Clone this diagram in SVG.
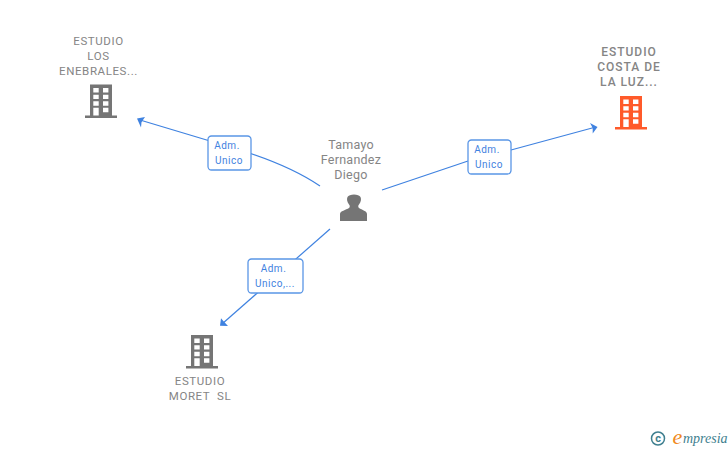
<svg xmlns="http://www.w3.org/2000/svg" xmlns:xlink="http://www.w3.org/1999/xlink" width="728" height="450" viewBox="0 0 728 450">
<style>
text{font-family:Roboto,"Liberation Sans",sans-serif;text-anchor:middle}
.n{font-size:11.500px;fill:#858585;letter-spacing:.6px}
.o{font-size:12px;fill:#858585;font-weight:500;letter-spacing:1px}
.p{font-size:12.500px;fill:#858585;letter-spacing:.25px}
.l{font-size:10px;fill:#3f82e0;letter-spacing:.5px}
.e{fill:none;stroke:#3f82e0;stroke-width:1.200}
.a{fill:#3f82e0}
.b{fill:#fff;stroke:#5a96e6;stroke-width:1.300}
</style>
<defs>
<g id="bld">
<path d="M5 0H27V31H32V33.500H0V31H5Z"/>
<path fill="#fff" d="M8.300 3.500h5.400v4.400h-5.400zM18 3.500h5.400v4.400H18zM8.300 10.200h5.400v4.400h-5.400zM18 10.200h5.400v4.400H18zM8.300 16.800h5.400v4.400h-5.400zM18 16.800h5.400v4.400H18zM8.300 23.300h5.400V31h-5.400zM18 23.300h5.400v4.500H18z"/>
</g>
</defs>
<g id="connectors">
<path class="e" d="M320 186C298 171 272 160 240 150L140 120"/>
<path class="a" d="M137 118.500L145 117L141.500 122.200L141 127.500Z"/>
<path class="e" d="M382 190L468 161"/>
<path class="e" d="M511 150L594 127.500"/>
<path class="a" d="M597.500 127L590 123L592.700 128L592.700 133.500Z"/>
<path class="e" d="M330 229L222 324"/>
<path class="a" d="M220 325.700L221 318.300L224 321.700L228 326Z"/>
</g>
<g id="label1"><rect class="b" x="208" y="136" width="43" height="34" rx="3.500"/><text class="l" x="227" y="149">Adm.</text><text class="l" x="229" y="164">Unico</text></g>
<g id="label2"><rect class="b" x="468" y="140" width="43" height="34" rx="3.500"/><text class="l" x="487" y="153">Adm.</text><text class="l" x="489" y="168">Unico</text></g>
<g id="label3"><rect class="b" x="248" y="259" width="55" height="34" rx="3.500"/><text class="l" x="273.500" y="272">Adm.</text><text class="l" x="275" y="287">Unico,...</text></g>
<g id="node-person">
<text class="p" x="351" y="149">Tamayo</text><text class="p" x="351" y="164">Fernandez</text><text class="p" x="351" y="179">Diego</text>
<path fill="#757575" d="M340 221V214C340 211 346 210 349 208C350 207 350 205.500 349 204.500C347 202 346.500 199 347.500 197C349 193.500 359 193.500 360.500 197C361.500 199 361 202 359 204.500C358 205.500 358 207 359 208C362 210 367 211 367 214V221Z"/>
</g>
<g id="node-losenebrales">
<text class="n" x="98.500" y="45">ESTUDIO</text><text class="n" x="98.500" y="60">LOS</text><text class="n" x="98.500" y="75">ENEBRALES...</text>
<use xlink:href="#bld" href="#bld" x="85" y="84.500" fill="#757575"/>
</g>
<g id="node-costadelaluz">
<text class="o" x="629" y="56">ESTUDIO</text><text class="o" x="629" y="71">COSTA DE</text><text class="o" x="629" y="86">LA LUZ...</text>
<use xlink:href="#bld" href="#bld" x="615" y="96" fill="#ff5a2a"/>
</g>
<g id="node-moret">
<text class="n" x="200" y="385">ESTUDIO</text><text class="n" x="200" y="400" xml:space="preserve">MORET  SL</text>
<use xlink:href="#bld" href="#bld" x="186" y="335" fill="#757575"/>
</g>
<g id="logo">
<circle cx="658" cy="438.500" r="6.500" fill="none" stroke="#3f7f8f" stroke-width="1.500"/>
<text x="658" y="442" style="font-size:11px;fill:#3f7f8f;font-weight:700">c</text>
<text x="677.500" y="444" style="font-family:'Liberation Serif',serif;font-size:22px;font-style:italic;fill:#f08a1d">e</text>
<text x="683" y="443" style="font-family:'Liberation Serif',serif;font-size:14px;font-style:italic;fill:#3f7f8f;text-anchor:start">mpresia</text>
</g>
</svg>
